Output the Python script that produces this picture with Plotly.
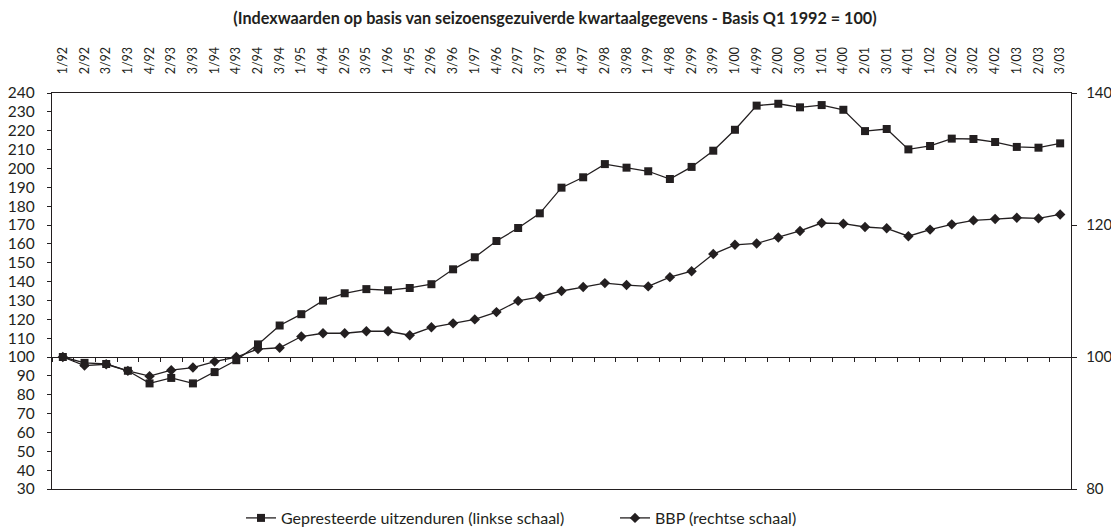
import plotly.graph_objects as go

quarters = ["1/92", "2/92", "3/92", "1/93", "4/92", "2/93", "3/93", "1/94", "4/93", "2/94",
            "3/94", "1/95", "4/94", "2/95", "3/95", "1/96", "4/95", "2/96", "3/96", "1/97",
            "4/96", "2/97", "3/97", "1/98", "4/97", "2/98", "3/98", "1/99", "4/98", "2/99",
            "3/99", "1/00", "4/99", "2/00", "3/00", "1/01", "4/00", "2/01", "3/01", "4/01",
            "1/02", "2/02", "3/02", "4/02", "1/03", "2/03", "3/03"]

uitzenduren = [100.0, 96.9, 96.3, 92.7, 86.0, 88.9, 86.0, 92.0, 98.3, 106.7,
               116.7, 122.7, 129.9, 133.8, 136.0, 135.4, 136.6, 138.6, 146.5, 152.9,
               161.5, 168.4, 176.2, 189.8, 195.3, 202.3, 200.4, 198.5, 194.4, 200.8,
               209.4, 220.5, 233.3, 234.3, 232.4, 233.6, 231.1, 219.8, 220.9, 210.1,
               211.9, 215.8, 215.6, 214.0, 211.4, 211.0, 213.3]

bbp = [100.0, 98.7, 98.9, 97.9, 97.1, 98.0, 98.4, 99.3, 100.0, 101.2,
       101.4, 103.1, 103.6, 103.6, 103.9, 103.9, 103.3, 104.5, 105.1, 105.7,
       106.8, 108.5, 109.1, 110.0, 110.6, 111.2, 110.9, 110.7, 112.1, 113.0,
       115.6, 117.0, 117.2, 118.1, 119.1, 120.3, 120.2, 119.7, 119.5, 118.3,
       119.3, 120.1, 120.7, 120.9, 121.1, 121.0, 121.6]

title_text = "(Indexwaarden op basis van seizoensgezuiverde kwartaalgegevens - Basis Q1 1992 = 100)"
name1 = "Gepresteerde uitzenduren (linkse schaal)"
name2 = "BBP (rechtse schaal)"

INK = "#231f20"
FONT = "Lato"

fig = go.Figure()
fig.add_trace(go.Scatter(
    x=quarters, y=uitzenduren, name=name1, mode="lines+markers",
    line=dict(color=INK, width=1.3), marker=dict(symbol="square", size=8, color=INK),
    xaxis="x", yaxis="y", legend="legend"))
fig.add_trace(go.Scatter(
    x=quarters, y=bbp, name=name2, mode="lines+markers",
    line=dict(color=INK, width=1.3), marker=dict(symbol="diamond", size=8, color=INK),
    xaxis="x", yaxis="y2", legend="legend2"))
# invisible helper trace so the baseline axis at 100 is drawn
fig.add_trace(go.Scatter(
    x=quarters, y=[None] * len(quarters), mode="lines", showlegend=False,
    hoverinfo="skip", xaxis="x3", yaxis="y"))

cat_range = [-0.5, len(quarters) - 0.5]

fig.update_layout(
    width=1111, height=531,
    paper_bgcolor="white", plot_bgcolor="white",
    margin=dict(l=52, r=40, t=93, b=42, autoexpand=False),
    font=dict(family=FONT, color=INK, size=14),
    title=dict(text="<b>" + title_text + "</b>", x=(555 - 52) / 1019, xref="paper", xanchor="center",
               y=1 - 18 / 531, yanchor="middle", font=dict(size=16.2, family=FONT, color=INK)),
    xaxis=dict(type="category", categoryorder="array", categoryarray=quarters,
               range=cat_range, side="top", tickangle=-90, ticks="",
               showline=True, linecolor=INK, linewidth=1.3, mirror=True,
               showgrid=False, zeroline=False, ticklabelstandoff=15, automargin=False,
               tickfont=dict(size=12.5, family=FONT, color=INK)),
    xaxis3=dict(type="category", categoryorder="array", categoryarray=quarters,
                range=cat_range, overlaying="x", anchor="free", position=(100 - 30) / 210,
                side="bottom", showline=True, linecolor=INK, linewidth=1.3,
                ticks="outside", tickson="boundaries", ticklen=4, tickcolor=INK,
                showticklabels=False, showgrid=False, zeroline=False, automargin=False),
    yaxis=dict(range=[30, 240], dtick=10, tick0=0, ticks="outside", ticklen=4,
               tickcolor=INK, showline=True, linecolor=INK, linewidth=1.3,
               showgrid=False, zeroline=False, ticklabelstandoff=9, automargin=False,
               tickfont=dict(size=15.5, family=FONT, color=INK)),
    yaxis2=dict(range=[80, 140], dtick=20, tick0=0, overlaying="y", side="right",
                ticks="outside", ticklen=5, tickcolor=INK, showline=True,
                linecolor=INK, linewidth=1.3, showgrid=False, zeroline=False,
                ticklabelstandoff=6, automargin=False,
                tickfont=dict(size=15, family=FONT, color=INK)),
    legend=dict(x=(241 - 52) / 1019, y=(489 - 518) / 396, xanchor="left", yanchor="middle",
                orientation="h", bgcolor="rgba(0,0,0,0)",
                font=dict(size=16, family=FONT, color=INK)),
    legend2=dict(x=(615 - 52) / 1019, y=(489 - 518) / 396, xanchor="left", yanchor="middle",
                 orientation="h", bgcolor="rgba(0,0,0,0)",
                 font=dict(size=16, family=FONT, color=INK)),
    showlegend=True,
)

fig.write_html("out.html", config={"displayModeBar": False},
               post_script="document.body.style.margin='0';document.body.style.padding='0';")
